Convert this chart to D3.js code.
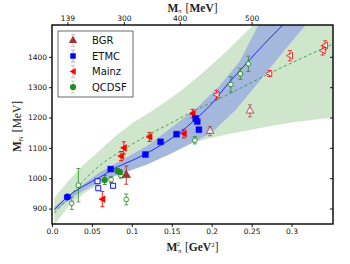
<!DOCTYPE html>
<html>
<head>
<meta charset="utf-8">
<style>
  body { margin: 0; background: #fff; }
  text { font-family: "DejaVu Sans", sans-serif; }
  .lab { font-family: "Liberation Serif", "DejaVu Serif", serif; }
</style>
<script src="https://cdn.jsdelivr.net/npm/d3@7"></script>
</head>
<body>
<script>
// ---- data ----
var xTicks = [0, 0.05, 0.1, 0.15, 0.2, 0.25, 0.3];
var xTickLabels = ["0.0", "0.05", "0.1", "0.15", "0.2", "0.25", "0.3"];
var yTicks = [900, 1000, 1100, 1200, 1300, 1400];
var topTicks = [139, 300, 400, 500];   // M_pi in MeV

// fit curves [Mpi^2, MN]
var blueFit = [[0.003,897],[0.02,940],[0.04,975],[0.06,1003],[0.08,1035],[0.10,1058],[0.12,1084],[0.14,1115],[0.16,1150],[0.18,1195],[0.20,1245],[0.22,1310],[0.244,1380],[0.265,1440],[0.289,1505]];
var blueUpper = [[0.003,905],[0.03,962],[0.06,1020],[0.09,1063],[0.12,1108],[0.15,1168],[0.18,1228],[0.21,1305],[0.235,1385],[0.26,1512]];
var blueLower = [[0.003,890],[0.03,945],[0.06,988],[0.09,1018],[0.12,1046],[0.15,1082],[0.18,1122],[0.20,1150],[0.23,1225],[0.26,1320],[0.29,1418],[0.32,1512]];
var greenFit = [[0.003,885],[0.02,935],[0.04,993],[0.06,1042],[0.09,1095],[0.12,1142],[0.15,1183],[0.18,1225],[0.21,1262],[0.24,1302],[0.27,1342],[0.30,1380],[0.352,1442]];
var greenUpper = [[0.003,935],[0.02,990],[0.04,1045],[0.06,1092],[0.08,1140],[0.10,1180],[0.13,1230],[0.16,1285],[0.19,1350],[0.22,1422],[0.25,1500],[0.27,1560],[0.352,1560]];
var greenLower = [[0.003,846],[0.02,905],[0.04,950],[0.07,995],[0.10,1040],[0.13,1075],[0.16,1105],[0.19,1127],[0.22,1145],[0.25,1160],[0.28,1175],[0.31,1187],[0.352,1200]];

// lattice points [Mpi^2, MN, error]
var bgrFilled = [[0.093,1010,30]];
var bgrOpen = [[0.198,1155,15],[0.248,1222,20]];
var etmcFilled = [[0.0735,1030,7],[0.117,1078,6],[0.136,1120,6],[0.156,1145,6],[0.180,1197,6],[0.182,1187,6],[0.184,1160,6]];
var etmcOpen = [[0.057,990,6],[0.058,967,6],[0.0765,975,6]];
var etmcPhys = [[0.0192,938,4]];
var mainzFilled = [[0.063,931,25],[0.0865,1073,15],[0.090,1100,20],[0.122,1136,15],[0.165,1147,14],[0.176,1213,14]];
var mainzOpen = [[0.206,1275,15],[0.272,1345,10],[0.298,1404,17],[0.339,1421,15],[0.342,1438,15]];
var qcdsfFilled = [[0.066,994,15],[0.082,1024,8],[0.085,1020,8]];
var qcdsfOpen = [[0.0247,917,20],[0.033,977,55],[0.074,995,10],[0.086,1010,10],[0.093,930,18],[0.179,1125,12],[0.224,1309,25],[0.236,1344,18],[0.246,1377,25]];

var legendNames = ["BGR", "ETMC", "Mainz", "QCDSF"];

// ---- layout ----
var W = 350, H = 264;
var margin = {top: 25, right: 17, bottom: 40, left: 52};
var width = W - margin.left - margin.right;
var height = H - margin.top - margin.bottom;

var cBGR = "#a83232", cETMC = "#0000ff", cMainz = "#ff0000", cQCDSF = "#228b22";

var svg = d3.select("body").append("svg")
  .attr("width", W).attr("height", H);

var g = svg.append("g")
  .attr("transform", "translate(" + margin.left + "," + margin.top + ")");

var x = d3.scaleLinear().domain([0, 0.352]).range([0, width]);
var y = d3.scaleLinear().domain([849, 1505]).range([height, 0]);

g.append("clipPath").attr("id", "clip")
  .append("rect").attr("width", width).attr("height", height);

var plot = g.append("g").attr("clip-path", "url(#clip)");

function band(up, lo) {
  var pts = up.concat(lo.slice().reverse());
  return "M" + pts.map(function(p){ return x(p[0]) + "," + y(p[1]); }).join("L") + "Z";
}
var line = d3.line()
  .x(function(d){ return x(d[0]); })
  .y(function(d){ return y(d[1]); })
  .curve(d3.curveMonotoneX);

plot.append("path").attr("d", band(greenUpper, greenLower))
  .attr("fill", "#cfe6cc");
plot.append("path").attr("d", band(blueUpper, blueLower))
  .attr("fill", "#a4b7dd");
plot.append("path").datum(blueFit).attr("d", line)
  .attr("fill", "none").attr("stroke", "#1a1aff").attr("stroke-width", 0.9);
plot.append("path").datum(greenFit).attr("d", line)
  .attr("fill", "none").attr("stroke", "#3c9a3c").attr("stroke-width", 0.9)
  .attr("stroke-dasharray", "3,2.5");

// ---- markers ----
function errbars(data, color, op) {
  var e = plot.append("g").attr("stroke", color).attr("stroke-width", 0.9).attr("opacity", op || 1);
  data.forEach(function(d){
    var cx = x(d[0]), y1 = y(d[1] - d[2]), y2 = y(d[1] + d[2]);
    e.append("line").attr("x1", cx).attr("x2", cx).attr("y1", y1).attr("y2", y2);
    e.append("line").attr("x1", cx - 2).attr("x2", cx + 2).attr("y1", y1).attr("y2", y1);
    e.append("line").attr("x1", cx - 2).attr("x2", cx + 2).attr("y1", y2).attr("y2", y2);
  });
}
function symbolPath(kind, size) {
  if (kind === "triUp") return d3.symbol().type(d3.symbolTriangle).size(size)();
  if (kind === "square") return d3.symbol().type(d3.symbolSquare).size(size)();
  if (kind === "circle") return d3.symbol().type(d3.symbolCircle).size(size)();
  // left-pointing triangle
  var r = Math.sqrt(size) * 0.62;
  return "M" + (-r) + ",0L" + (r * 0.8) + "," + (-r) + "L" + (r * 0.8) + "," + r + "Z";
}
function markers(data, kind, color, filled, size, op) {
  errbars(data, color, op);
  plot.append("g").selectAll("path").data(data).enter().append("path")
    .attr("transform", function(d){ return "translate(" + x(d[0]) + "," + y(d[1]) + ")"; })
    .attr("d", symbolPath(kind, size))
    .attr("fill", filled ? color : "#fff")
    .attr("stroke", color).attr("stroke-width", filled ? 0.5 : 1)
    .attr("opacity", op || 1);
}

markers(bgrOpen, "triUp", cBGR, false, 26, 0.75);
markers(bgrFilled, "triUp", cBGR, true, 34);
markers(qcdsfOpen, "circle", cQCDSF, false, 18, 0.85);
markers(mainzOpen, "triLeft", cMainz, false, 28, 0.8);
markers(etmcOpen, "square", cETMC, false, 26, 0.9);
markers(qcdsfFilled, "circle", cQCDSF, true, 26);
markers(mainzFilled, "triLeft", cMainz, true, 30);
markers(etmcFilled, "square", cETMC, true, 34);
markers(etmcPhys, "circle", cETMC, true, 34);

// ---- axes ----
var fs = "7.5px";
var axBottom = g.append("g").attr("transform", "translate(0," + height + ")")
  .call(d3.axisBottom(x).tickValues(xTicks).tickSize(3).tickPadding(2)
    .tickFormat(function(d, i){ return xTickLabels[i]; }));
var axLeft = g.append("g")
  .call(d3.axisLeft(y).tickValues(yTicks).tickSize(3).tickPadding(2).tickFormat(d3.format("d")));
var axRight = g.append("g").attr("transform", "translate(" + width + ",0)")
  .call(d3.axisLeft(y).tickValues(yTicks).tickSize(3).tickFormat(""));
var axTop = g.append("g")
  .call(d3.axisTop(x).tickValues(topTicks.map(function(m){ return (m / 1000) * (m / 1000); }))
    .tickSize(3).tickPadding(1)
    .tickFormat(function(d, i){ return topTicks[i]; }));

[axBottom, axLeft, axRight, axTop].forEach(function(a){
  a.select(".domain").remove();
  a.selectAll("line").attr("stroke", "#000").attr("stroke-width", 0.9);
  a.selectAll("text").attr("font-size", fs).attr("font-family", "DejaVu Sans").attr("fill", "#111");
});

g.append("rect").attr("width", width).attr("height", height)
  .attr("fill", "none").attr("stroke", "#000").attr("stroke-width", 1.4);

// axis titles
var xl = svg.append("text").attr("class", "lab")
  .attr("x", margin.left + width / 2).attr("y", 251)
  .attr("text-anchor", "middle").attr("font-size", "11.5px").attr("fill", "#222");
xl.append("tspan").attr("font-weight", "bold").text("M");
xl.append("tspan").attr("font-size", "7px").attr("dy", "2").attr("dx", "0.5").text("\u03c0");
xl.append("tspan").attr("font-size", "7px").attr("dy", "-7.5").attr("dx", "-5").text("2");
xl.append("tspan").attr("dy", "5.5").attr("dx", "5").text("[");
xl.append("tspan").attr("font-weight", "bold").text("GeV");
xl.append("tspan").attr("font-size", "7px").attr("dy", "-4").text("2");
xl.append("tspan").attr("dy", "4").text("]");

var tl = svg.append("text").attr("class", "lab")
  .attr("x", margin.left + width / 2).attr("y", 11.5)
  .attr("text-anchor", "middle").attr("font-size", "11.5px").attr("fill", "#222");
tl.append("tspan").attr("font-weight", "bold").text("M");
tl.append("tspan").attr("font-size", "6.5px").attr("dy", "1.5").text("\u03c0");
tl.append("tspan").attr("dy", "-1.5").attr("dx", "4").text("[");
tl.append("tspan").attr("font-weight", "bold").text("MeV");
tl.append("tspan").text("]");

var yl = svg.append("text").attr("class", "lab")
  .attr("transform", "translate(21," + (margin.top + height / 2 + 2) + ") rotate(-90)")
  .attr("text-anchor", "middle").attr("font-size", "11.5px").attr("fill", "#222");
yl.append("tspan").attr("font-weight", "bold").text("M");
yl.append("tspan").attr("font-size", "7px").attr("dy", "2").text("N");
yl.append("tspan").attr("dy", "-2").attr("dx", "4").text("[MeV]");

// ---- legend ----
var lg = svg.append("g").attr("transform", "translate(58,31)");
lg.append("rect").attr("width", 75).attr("height", 66)
  .attr("fill", "#fff").attr("stroke", "#444").attr("stroke-width", 0.8);
var legKinds = ["triUp", "square", "triLeft", "circle"];
var legCols = [cBGR, cETMC, cMainz, cQCDSF];
legendNames.forEach(function(name, i){
  var ly = 9.5 + i * 15.5;
  var e = lg.append("g").attr("stroke", legCols[i]).attr("opacity", 0.35).attr("stroke-width", 0.9);
  e.append("line").attr("x1", 15).attr("x2", 15).attr("y1", ly - 6).attr("y2", ly + 6);
  e.append("line").attr("x1", 13).attr("x2", 17).attr("y1", ly - 6).attr("y2", ly - 6);
  e.append("line").attr("x1", 13).attr("x2", 17).attr("y1", ly + 6).attr("y2", ly + 6);
  lg.append("path").attr("transform", "translate(15," + ly + ")")
    .attr("d", symbolPath(legKinds[i], 30)).attr("fill", legCols[i]);
  lg.append("text").attr("x", 34).attr("y", ly + 3.5)
    .attr("font-size", "10px").attr("fill", "#111").text(name);
});
</script>
</body>
</html>
